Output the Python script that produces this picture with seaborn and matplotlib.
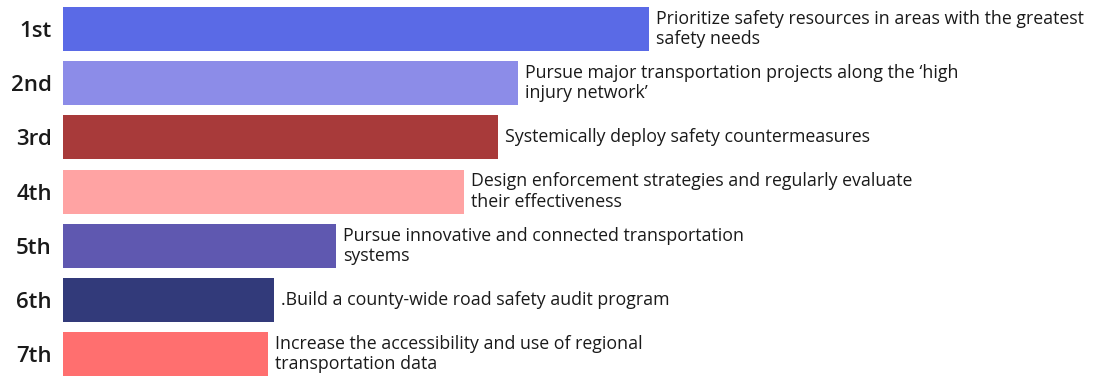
import matplotlib
matplotlib.use("Agg")
import matplotlib.pyplot as plt
import seaborn as sns
import pandas as pd

# ── Data ────────────────────────────────────────────────────
ranks = ["1st", "2nd", "3rd", "4th", "5th", "6th", "7th"]
scores = [586, 455, 435, 401, 273, 211, 205]
labels = [
    "Prioritize safety resources in areas with the greatest\nsafety needs",
    "Pursue major transportation projects along the \u2018high\ninjury network\u2019",
    "Systemically deploy safety countermeasures",
    "Design enforcement strategies and regularly evaluate\ntheir effectiveness",
    "Pursue innovative and connected transportation\nsystems",
    ".Build a county-wide road safety audit program",
    "Increase the accessibility and use of regional\ntransportation data",
]
colors = ["#5A6AE6", "#8C8CE8", "#A83A3A", "#FFA3A3", "#5F58B0", "#323A7A", "#FF6F6F"]

df = pd.DataFrame({"rank": ranks, "score": scores, "label": labels})

sns.set_theme(style="white")
plt.rcParams["font.family"] = ["Open Sans", "DejaVu Sans"]

fig = plt.figure(figsize=(10.93, 3.77), dpi=100)
ax = fig.add_axes([63 / 1093, 0, 1 - 63 / 1093, 1])

sns.barplot(data=df, x="score", y="rank", hue="rank", palette=colors,
            saturation=1, orient="h", width=0.81, legend=False, ax=ax,
            linewidth=0)

# annotation text right of each bar
for i, (s, lab) in enumerate(zip(scores, labels)):
    ax.text(s + 7, i, lab, va="center", ha="left", fontsize=12.8,
            color="#1a1a1a", linespacing=1.17)

ax.set_xlim(0, 1030)
ax.set_ylim(6.42, -0.535)
ax.set_xlabel("")
ax.set_ylabel("")
ax.set_xticks([])
ax.tick_params(axis="y", length=0, pad=8, labelsize=16, labelcolor="#1a1a1a")
for t in ax.get_yticklabels():
    t.set_fontweight("semibold")
sns.despine(ax=ax, left=True, bottom=True)

fig.savefig("out.png", dpi=100, facecolor="white")
